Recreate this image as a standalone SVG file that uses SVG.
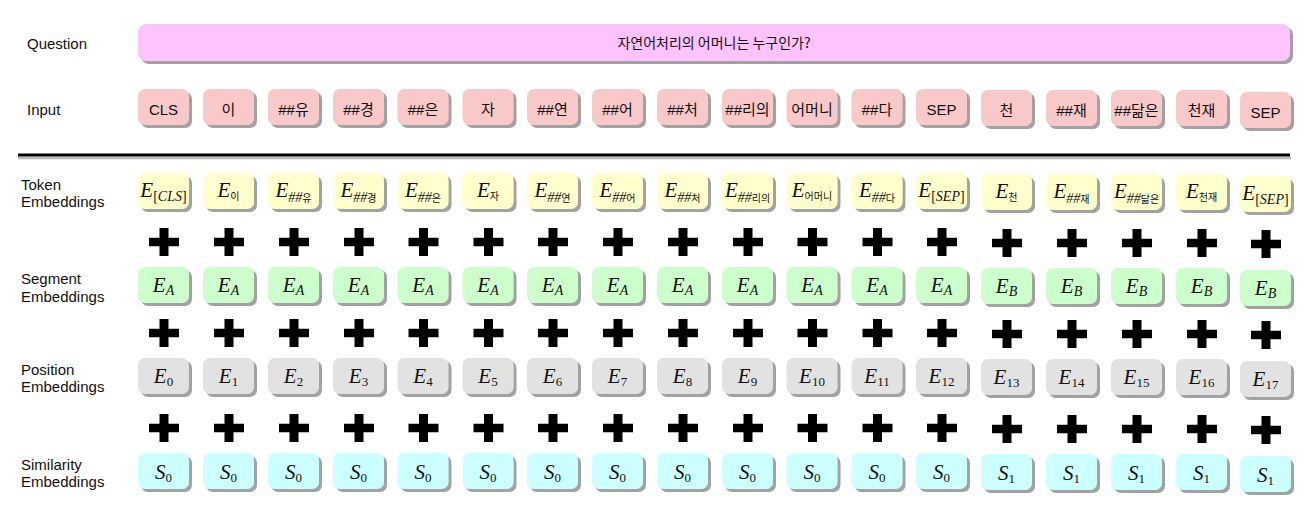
<svg xmlns="http://www.w3.org/2000/svg" xmlns:xlink="http://www.w3.org/1999/xlink" width="1312" height="526" viewBox="0 0 1312 526">
<defs>
<filter id="sh" x="-10%" y="-10%" width="130%" height="140%">
<feDropShadow dx="3" dy="3" stdDeviation="0.5" flood-color="#7a7a7a" flood-opacity="0.7"/>
</filter>
<path id="plus" d="M-4.5,-14h9v9.75h10.5v8.5h-10.5v9.75h-9v-9.75h-10.5v-8.5h10.5z" fill="#000"/>
<style>
.lbl{font-family:"Liberation Sans","Noto Sans CJK KR",sans-serif;font-size:15px;fill:#111}
.in{font-family:"Liberation Sans","Noto Sans CJK KR",sans-serif;font-size:15px;fill:#111;text-anchor:middle}
.q{font-family:"Noto Sans CJK KR",sans-serif;font-size:14px;fill:#111;text-anchor:middle}
.m{font-family:"Liberation Serif","DejaVu Serif",serif;font-size:21px;font-style:italic;fill:#111;text-anchor:middle}
.s{font-size:14px}
.d{font-size:13px;font-style:normal}
.u{font-style:normal}
.k{font-family:"Noto Sans CJK KR",sans-serif;font-style:normal;font-size:10px}
.b{filter:url(#sh)}
.qb{fill:#FFC4FF}
.ib{fill:#F8C9C8}
.tb{fill:#FFFFCC}
.sb{fill:#CCFFCC}
.pb{fill:#E2E2E2}
.yb{fill:#CCFFFF}
</style>
</defs>
<rect width="1312" height="526" fill="#fff"/>

<g id="labels">
<text class="lbl" x="27" y="49">Question</text>
<text class="lbl" x="27" y="115">Input</text>
<text class="lbl" x="21" y="190">Token</text>
<text class="lbl" x="21" y="207">Embeddings</text>
<text class="lbl" x="21" y="284">Segment</text>
<text class="lbl" x="21" y="302">Embeddings</text>
<text class="lbl" x="21" y="375">Position</text>
<text class="lbl" x="21" y="392">Embeddings</text>
<text class="lbl" x="21" y="470">Similarity</text>
<text class="lbl" x="21" y="487">Embeddings</text>
</g>

<g id="question">
<rect class="b qb" x="138" y="24" width="1152" height="37" rx="8"/>
<text class="q" x="714" y="48">자연어처리의 어머니는 누구인가?</text>
</g>

<g id="separator">
<line x1="18" y1="158" x2="1291" y2="158" stroke="#bbb" stroke-width="2.5"/>
<line x1="18" y1="155" x2="1290" y2="155" stroke="#000" stroke-width="3"/>
</g>

<!-- Input row -->
<g id="in-0" transform="translate(138,89)"><rect class="b ib" width="51" height="36" rx="7"/><text class="in" x="25.5" y="26">CLS</text></g>
<g id="in-1" transform="translate(203,89)"><rect class="b ib" width="51" height="36" rx="7"/><text class="in" x="25.5" y="26">이</text></g>
<g id="in-2" transform="translate(268,89)"><rect class="b ib" width="51" height="36" rx="7"/><text class="in" x="25.5" y="26">##유</text></g>
<g id="in-3" transform="translate(333,89)"><rect class="b ib" width="51" height="36" rx="7"/><text class="in" x="25.5" y="26">##경</text></g>
<g id="in-4" transform="translate(397.5,89)"><rect class="b ib" width="51" height="36" rx="7"/><text class="in" x="25.5" y="26">##은</text></g>
<g id="in-5" transform="translate(462.5,89)"><rect class="b ib" width="51" height="36" rx="7"/><text class="in" x="25.5" y="26">자</text></g>
<g id="in-6" transform="translate(527,89)"><rect class="b ib" width="51" height="36" rx="7"/><text class="in" x="25.5" y="26">##연</text></g>
<g id="in-7" transform="translate(592,89)"><rect class="b ib" width="51" height="36" rx="7"/><text class="in" x="25.5" y="26">##어</text></g>
<g id="in-8" transform="translate(657,89)"><rect class="b ib" width="51" height="36" rx="7"/><text class="in" x="25.5" y="26">##처</text></g>
<g id="in-9" transform="translate(722,89)"><rect class="b ib" width="51" height="36" rx="7"/><text class="in" x="25.5" y="26">##리의</text></g>
<g id="in-10" transform="translate(786.5,89)"><rect class="b ib" width="51" height="36" rx="7"/><text class="in" x="25.5" y="26">어머니</text></g>
<g id="in-11" transform="translate(851.5,89)"><rect class="b ib" width="51" height="36" rx="7"/><text class="in" x="25.5" y="26">##다</text></g>
<g id="in-12" transform="translate(916,89)"><rect class="b ib" width="51" height="36" rx="7"/><text class="in" x="25.5" y="26">SEP</text></g>
<g id="in-13" transform="translate(981,90)"><rect class="b ib" width="51" height="36" rx="7"/><text class="in" x="25.5" y="26">천</text></g>
<g id="in-14" transform="translate(1046,90)"><rect class="b ib" width="51" height="36" rx="7"/><text class="in" x="25.5" y="26">##재</text></g>
<g id="in-15" transform="translate(1111,90)"><rect class="b ib" width="51" height="36" rx="7"/><text class="in" x="25.5" y="26">##닮은</text></g>
<g id="in-16" transform="translate(1176,90)"><rect class="b ib" width="51" height="36" rx="7"/><text class="in" x="25.5" y="26">천재</text></g>
<g id="in-17" transform="translate(1240,92)"><rect class="b ib" width="51" height="36" rx="7"/><text class="in" x="25.5" y="26">SEP</text></g>

<!-- Token embeddings -->
<g id="tok-0" transform="translate(138,173)"><rect class="b tb" width="51" height="36" rx="7"/><text class="m" x="25.5" y="24">E<tspan class="s" dy="4"><tspan class="u">[</tspan>CLS<tspan class="u">]</tspan></tspan></text></g>
<g id="tok-1" transform="translate(203,173)"><rect class="b tb" width="51" height="36" rx="7"/><text class="m" x="25.5" y="24">E<tspan class="k" dy="3">이</tspan></text></g>
<g id="tok-2" transform="translate(268,173)"><rect class="b tb" width="51" height="36" rx="7"/><text class="m" x="25.5" y="24">E<tspan class="s" dy="5">##</tspan><tspan class="k">유</tspan></text></g>
<g id="tok-3" transform="translate(333,173)"><rect class="b tb" width="51" height="36" rx="7"/><text class="m" x="25.5" y="24">E<tspan class="s" dy="5">##</tspan><tspan class="k">경</tspan></text></g>
<g id="tok-4" transform="translate(397.5,173)"><rect class="b tb" width="51" height="36" rx="7"/><text class="m" x="25.5" y="24">E<tspan class="s" dy="5">##</tspan><tspan class="k">은</tspan></text></g>
<g id="tok-5" transform="translate(462.5,173)"><rect class="b tb" width="51" height="36" rx="7"/><text class="m" x="25.5" y="24">E<tspan class="k" dy="3">자</tspan></text></g>
<g id="tok-6" transform="translate(527,173)"><rect class="b tb" width="51" height="36" rx="7"/><text class="m" x="25.5" y="24">E<tspan class="s" dy="5">##</tspan><tspan class="k">연</tspan></text></g>
<g id="tok-7" transform="translate(592,173)"><rect class="b tb" width="51" height="36" rx="7"/><text class="m" x="25.5" y="24">E<tspan class="s" dy="5">##</tspan><tspan class="k">어</tspan></text></g>
<g id="tok-8" transform="translate(657,173)"><rect class="b tb" width="51" height="36" rx="7"/><text class="m" x="25.5" y="24">E<tspan class="s" dy="5">##</tspan><tspan class="k">처</tspan></text></g>
<g id="tok-9" transform="translate(722,173)"><rect class="b tb" width="51" height="36" rx="7"/><text class="m" x="25.5" y="24">E<tspan class="s" dy="5">##</tspan><tspan class="k">리의</tspan></text></g>
<g id="tok-10" transform="translate(786.5,173)"><rect class="b tb" width="51" height="36" rx="7"/><text class="m" x="25.5" y="24">E<tspan class="k" dy="3">어머니</tspan></text></g>
<g id="tok-11" transform="translate(851.5,173)"><rect class="b tb" width="51" height="36" rx="7"/><text class="m" x="25.5" y="24">E<tspan class="s" dy="5">##</tspan><tspan class="k">다</tspan></text></g>
<g id="tok-12" transform="translate(916,173)"><rect class="b tb" width="51" height="36" rx="7"/><text class="m" x="25.5" y="24">E<tspan class="s" dy="4"><tspan class="u">[</tspan>SEP<tspan class="u">]</tspan></tspan></text></g>
<g id="tok-13" transform="translate(981,174)"><rect class="b tb" width="51" height="36" rx="7"/><text class="m" x="25.5" y="24">E<tspan class="k" dy="3">천</tspan></text></g>
<g id="tok-14" transform="translate(1046,174)"><rect class="b tb" width="51" height="36" rx="7"/><text class="m" x="25.5" y="24">E<tspan class="s" dy="5">##</tspan><tspan class="k">재</tspan></text></g>
<g id="tok-15" transform="translate(1111,174)"><rect class="b tb" width="51" height="36" rx="7"/><text class="m" x="25.5" y="24">E<tspan class="s" dy="5">##</tspan><tspan class="k">닮은</tspan></text></g>
<g id="tok-16" transform="translate(1176,174)"><rect class="b tb" width="51" height="36" rx="7"/><text class="m" x="25.5" y="24">E<tspan class="k" dy="3">천재</tspan></text></g>
<g id="tok-17" transform="translate(1240,176)"><rect class="b tb" width="51" height="36" rx="7"/><text class="m" x="25.5" y="24">E<tspan class="s" dy="4"><tspan class="u">[</tspan>SEP<tspan class="u">]</tspan></tspan></text></g>

<!-- Segment embeddings -->
<g id="seg-0" transform="translate(138,267)"><rect class="b sb" width="51" height="36" rx="7"/><text class="m" x="25.5" y="25">E<tspan class="s" dy="3">A</tspan></text></g>
<g id="seg-1" transform="translate(203,267)"><rect class="b sb" width="51" height="36" rx="7"/><text class="m" x="25.5" y="25">E<tspan class="s" dy="3">A</tspan></text></g>
<g id="seg-2" transform="translate(268,267)"><rect class="b sb" width="51" height="36" rx="7"/><text class="m" x="25.5" y="25">E<tspan class="s" dy="3">A</tspan></text></g>
<g id="seg-3" transform="translate(333,267)"><rect class="b sb" width="51" height="36" rx="7"/><text class="m" x="25.5" y="25">E<tspan class="s" dy="3">A</tspan></text></g>
<g id="seg-4" transform="translate(397.5,267)"><rect class="b sb" width="51" height="36" rx="7"/><text class="m" x="25.5" y="25">E<tspan class="s" dy="3">A</tspan></text></g>
<g id="seg-5" transform="translate(462.5,267)"><rect class="b sb" width="51" height="36" rx="7"/><text class="m" x="25.5" y="25">E<tspan class="s" dy="3">A</tspan></text></g>
<g id="seg-6" transform="translate(527,267)"><rect class="b sb" width="51" height="36" rx="7"/><text class="m" x="25.5" y="25">E<tspan class="s" dy="3">A</tspan></text></g>
<g id="seg-7" transform="translate(592,267)"><rect class="b sb" width="51" height="36" rx="7"/><text class="m" x="25.5" y="25">E<tspan class="s" dy="3">A</tspan></text></g>
<g id="seg-8" transform="translate(657,267)"><rect class="b sb" width="51" height="36" rx="7"/><text class="m" x="25.5" y="25">E<tspan class="s" dy="3">A</tspan></text></g>
<g id="seg-9" transform="translate(722,267)"><rect class="b sb" width="51" height="36" rx="7"/><text class="m" x="25.5" y="25">E<tspan class="s" dy="3">A</tspan></text></g>
<g id="seg-10" transform="translate(786.5,267)"><rect class="b sb" width="51" height="36" rx="7"/><text class="m" x="25.5" y="25">E<tspan class="s" dy="3">A</tspan></text></g>
<g id="seg-11" transform="translate(851.5,267)"><rect class="b sb" width="51" height="36" rx="7"/><text class="m" x="25.5" y="25">E<tspan class="s" dy="3">A</tspan></text></g>
<g id="seg-12" transform="translate(916,267)"><rect class="b sb" width="51" height="36" rx="7"/><text class="m" x="25.5" y="25">E<tspan class="s" dy="3">A</tspan></text></g>
<g id="seg-13" transform="translate(981,268)"><rect class="b sb" width="51" height="36" rx="7"/><text class="m" x="25.5" y="25">E<tspan class="s" dy="3">B</tspan></text></g>
<g id="seg-14" transform="translate(1046,268)"><rect class="b sb" width="51" height="36" rx="7"/><text class="m" x="25.5" y="25">E<tspan class="s" dy="3">B</tspan></text></g>
<g id="seg-15" transform="translate(1111,268)"><rect class="b sb" width="51" height="36" rx="7"/><text class="m" x="25.5" y="25">E<tspan class="s" dy="3">B</tspan></text></g>
<g id="seg-16" transform="translate(1176,268)"><rect class="b sb" width="51" height="36" rx="7"/><text class="m" x="25.5" y="25">E<tspan class="s" dy="3">B</tspan></text></g>
<g id="seg-17" transform="translate(1240,270)"><rect class="b sb" width="51" height="36" rx="7"/><text class="m" x="25.5" y="25">E<tspan class="s" dy="3">B</tspan></text></g>

<!-- Position embeddings -->
<g id="pos-0" transform="translate(138,358)"><rect class="b pb" width="51" height="36" rx="7"/><text class="m" x="25.5" y="25">E<tspan class="d" dy="3">0</tspan></text></g>
<g id="pos-1" transform="translate(203,358)"><rect class="b pb" width="51" height="36" rx="7"/><text class="m" x="25.5" y="25">E<tspan class="d" dy="3">1</tspan></text></g>
<g id="pos-2" transform="translate(268,358)"><rect class="b pb" width="51" height="36" rx="7"/><text class="m" x="25.5" y="25">E<tspan class="d" dy="3">2</tspan></text></g>
<g id="pos-3" transform="translate(333,358)"><rect class="b pb" width="51" height="36" rx="7"/><text class="m" x="25.5" y="25">E<tspan class="d" dy="3">3</tspan></text></g>
<g id="pos-4" transform="translate(397.5,358)"><rect class="b pb" width="51" height="36" rx="7"/><text class="m" x="25.5" y="25">E<tspan class="d" dy="3">4</tspan></text></g>
<g id="pos-5" transform="translate(462.5,358)"><rect class="b pb" width="51" height="36" rx="7"/><text class="m" x="25.5" y="25">E<tspan class="d" dy="3">5</tspan></text></g>
<g id="pos-6" transform="translate(527,358)"><rect class="b pb" width="51" height="36" rx="7"/><text class="m" x="25.5" y="25">E<tspan class="d" dy="3">6</tspan></text></g>
<g id="pos-7" transform="translate(592,358)"><rect class="b pb" width="51" height="36" rx="7"/><text class="m" x="25.5" y="25">E<tspan class="d" dy="3">7</tspan></text></g>
<g id="pos-8" transform="translate(657,358)"><rect class="b pb" width="51" height="36" rx="7"/><text class="m" x="25.5" y="25">E<tspan class="d" dy="3">8</tspan></text></g>
<g id="pos-9" transform="translate(722,358)"><rect class="b pb" width="51" height="36" rx="7"/><text class="m" x="25.5" y="25">E<tspan class="d" dy="3">9</tspan></text></g>
<g id="pos-10" transform="translate(786.5,358)"><rect class="b pb" width="51" height="36" rx="7"/><text class="m" x="25.5" y="25">E<tspan class="d" dy="3">10</tspan></text></g>
<g id="pos-11" transform="translate(851.5,358)"><rect class="b pb" width="51" height="36" rx="7"/><text class="m" x="25.5" y="25">E<tspan class="d" dy="3">11</tspan></text></g>
<g id="pos-12" transform="translate(916,358)"><rect class="b pb" width="51" height="36" rx="7"/><text class="m" x="25.5" y="25">E<tspan class="d" dy="3">12</tspan></text></g>
<g id="pos-13" transform="translate(981,359)"><rect class="b pb" width="51" height="36" rx="7"/><text class="m" x="25.5" y="25">E<tspan class="d" dy="3">13</tspan></text></g>
<g id="pos-14" transform="translate(1046,359)"><rect class="b pb" width="51" height="36" rx="7"/><text class="m" x="25.5" y="25">E<tspan class="d" dy="3">14</tspan></text></g>
<g id="pos-15" transform="translate(1111,359)"><rect class="b pb" width="51" height="36" rx="7"/><text class="m" x="25.5" y="25">E<tspan class="d" dy="3">15</tspan></text></g>
<g id="pos-16" transform="translate(1176,359)"><rect class="b pb" width="51" height="36" rx="7"/><text class="m" x="25.5" y="25">E<tspan class="d" dy="3">16</tspan></text></g>
<g id="pos-17" transform="translate(1240,361)"><rect class="b pb" width="51" height="36" rx="7"/><text class="m" x="25.5" y="25">E<tspan class="d" dy="3">17</tspan></text></g>

<!-- Similarity embeddings -->
<g id="sim-0" transform="translate(138,453)"><rect class="b yb" width="51" height="36" rx="7"/><text class="m" x="25.5" y="26">S<tspan class="d" dy="3">0</tspan></text></g>
<g id="sim-1" transform="translate(203,453)"><rect class="b yb" width="51" height="36" rx="7"/><text class="m" x="25.5" y="26">S<tspan class="d" dy="3">0</tspan></text></g>
<g id="sim-2" transform="translate(268,453)"><rect class="b yb" width="51" height="36" rx="7"/><text class="m" x="25.5" y="26">S<tspan class="d" dy="3">0</tspan></text></g>
<g id="sim-3" transform="translate(333,453)"><rect class="b yb" width="51" height="36" rx="7"/><text class="m" x="25.5" y="26">S<tspan class="d" dy="3">0</tspan></text></g>
<g id="sim-4" transform="translate(397.5,453)"><rect class="b yb" width="51" height="36" rx="7"/><text class="m" x="25.5" y="26">S<tspan class="d" dy="3">0</tspan></text></g>
<g id="sim-5" transform="translate(462.5,453)"><rect class="b yb" width="51" height="36" rx="7"/><text class="m" x="25.5" y="26">S<tspan class="d" dy="3">0</tspan></text></g>
<g id="sim-6" transform="translate(527,453)"><rect class="b yb" width="51" height="36" rx="7"/><text class="m" x="25.5" y="26">S<tspan class="d" dy="3">0</tspan></text></g>
<g id="sim-7" transform="translate(592,453)"><rect class="b yb" width="51" height="36" rx="7"/><text class="m" x="25.5" y="26">S<tspan class="d" dy="3">0</tspan></text></g>
<g id="sim-8" transform="translate(657,453)"><rect class="b yb" width="51" height="36" rx="7"/><text class="m" x="25.5" y="26">S<tspan class="d" dy="3">0</tspan></text></g>
<g id="sim-9" transform="translate(722,453)"><rect class="b yb" width="51" height="36" rx="7"/><text class="m" x="25.5" y="26">S<tspan class="d" dy="3">0</tspan></text></g>
<g id="sim-10" transform="translate(786.5,453)"><rect class="b yb" width="51" height="36" rx="7"/><text class="m" x="25.5" y="26">S<tspan class="d" dy="3">0</tspan></text></g>
<g id="sim-11" transform="translate(851.5,453)"><rect class="b yb" width="51" height="36" rx="7"/><text class="m" x="25.5" y="26">S<tspan class="d" dy="3">0</tspan></text></g>
<g id="sim-12" transform="translate(916,453)"><rect class="b yb" width="51" height="36" rx="7"/><text class="m" x="25.5" y="26">S<tspan class="d" dy="3">0</tspan></text></g>
<g id="sim-13" transform="translate(981,454)"><rect class="b yb" width="51" height="36" rx="7"/><text class="m" x="25.5" y="26">S<tspan class="d" dy="3">1</tspan></text></g>
<g id="sim-14" transform="translate(1046,454)"><rect class="b yb" width="51" height="36" rx="7"/><text class="m" x="25.5" y="26">S<tspan class="d" dy="3">1</tspan></text></g>
<g id="sim-15" transform="translate(1111,454)"><rect class="b yb" width="51" height="36" rx="7"/><text class="m" x="25.5" y="26">S<tspan class="d" dy="3">1</tspan></text></g>
<g id="sim-16" transform="translate(1176,454)"><rect class="b yb" width="51" height="36" rx="7"/><text class="m" x="25.5" y="26">S<tspan class="d" dy="3">1</tspan></text></g>
<g id="sim-17" transform="translate(1240,456)"><rect class="b yb" width="51" height="36" rx="7"/><text class="m" x="25.5" y="26">S<tspan class="d" dy="3">1</tspan></text></g>

<!-- Plus signs between embedding rows -->
<g id="connectors">
<g id="plus-row-1">
<use href="#plus" x="164" y="242"/><use href="#plus" x="229" y="242"/><use href="#plus" x="294" y="242"/><use href="#plus" x="359" y="242"/><use href="#plus" x="423.5" y="242"/><use href="#plus" x="488.5" y="242"/><use href="#plus" x="553" y="242"/><use href="#plus" x="618" y="242"/><use href="#plus" x="683" y="242"/><use href="#plus" x="748" y="242"/><use href="#plus" x="812.5" y="242"/><use href="#plus" x="877.5" y="242"/><use href="#plus" x="942" y="242"/><use href="#plus" x="1007" y="243"/><use href="#plus" x="1072" y="243"/><use href="#plus" x="1137" y="243"/><use href="#plus" x="1202" y="243"/><use href="#plus" x="1266" y="244"/>
</g>
<g id="plus-row-2">
<use href="#plus" x="164" y="333"/><use href="#plus" x="229" y="333"/><use href="#plus" x="294" y="333"/><use href="#plus" x="359" y="333"/><use href="#plus" x="423.5" y="333"/><use href="#plus" x="488.5" y="333"/><use href="#plus" x="553" y="333"/><use href="#plus" x="618" y="333"/><use href="#plus" x="683" y="333"/><use href="#plus" x="748" y="333"/><use href="#plus" x="812.5" y="333"/><use href="#plus" x="877.5" y="333"/><use href="#plus" x="942" y="333"/><use href="#plus" x="1007" y="334"/><use href="#plus" x="1072" y="334"/><use href="#plus" x="1137" y="334"/><use href="#plus" x="1202" y="334"/><use href="#plus" x="1266" y="335"/>
</g>
<g id="plus-row-3">
<use href="#plus" x="164" y="428"/><use href="#plus" x="229" y="428"/><use href="#plus" x="294" y="428"/><use href="#plus" x="359" y="428"/><use href="#plus" x="423.5" y="428"/><use href="#plus" x="488.5" y="428"/><use href="#plus" x="553" y="428"/><use href="#plus" x="618" y="428"/><use href="#plus" x="683" y="428"/><use href="#plus" x="748" y="428"/><use href="#plus" x="812.5" y="428"/><use href="#plus" x="877.5" y="428"/><use href="#plus" x="942" y="428"/><use href="#plus" x="1007" y="429"/><use href="#plus" x="1072" y="429"/><use href="#plus" x="1137" y="429"/><use href="#plus" x="1202" y="429"/><use href="#plus" x="1266" y="430"/>
</g>
</g>
</svg>
